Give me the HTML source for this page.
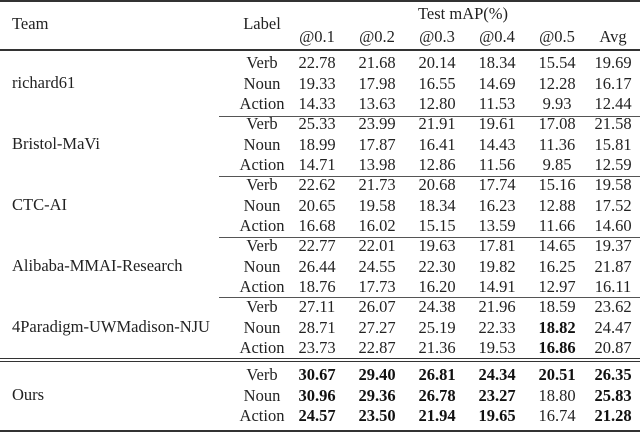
<!DOCTYPE html>
<html><head><meta charset="utf-8"><style>
body{margin:0;background:#fff}
#c{position:relative;width:640px;height:432px;overflow:hidden;font-family:"Liberation Serif",serif;font-size:16.5px;color:#222}
.t{position:absolute;transform:translate(-50%,-50%);white-space:nowrap;line-height:1}
.l{position:absolute;transform:translateY(-50%);white-space:nowrap;line-height:1}
.r{position:absolute;background:#333;left:0;width:640px}
.s{position:absolute;background:#555;left:219px;width:421px;height:1px}
b{font-weight:bold;color:#111}
</style></head><body><div id="c">
<div class="r" style="top:0;height:2px"></div>
<div class="r" style="top:49px;height:1.5px"></div>
<div class="s" style="top:116px"></div>
<div class="s" style="top:176px"></div>
<div class="s" style="top:237px"></div>
<div class="s" style="top:297px"></div>
<div class="r" style="top:358px;height:1px"></div>
<div class="r" style="top:361px;height:1px"></div>
<div class="r" style="top:430px;height:2px"></div>
<span class="l" style="left:12px;top:24px">Team</span>
<span class="t" style="left:262px;top:24px">Label</span>
<span class="t" style="left:463px;top:14px">Test mAP(%)</span>
<span class="t" style="left:317px;top:37px">@0.1</span>
<span class="t" style="left:377px;top:37px">@0.2</span>
<span class="t" style="left:437px;top:37px">@0.3</span>
<span class="t" style="left:497px;top:37px">@0.4</span>
<span class="t" style="left:557px;top:37px">@0.5</span>
<span class="t" style="left:613px;top:37px">Avg</span>

<span class="l" style="left:12px;top:83px">richard61</span>
<span class="t" style="left:262px;top:63px">Verb</span><span class="t" style="left:317px;top:63px">22.78</span><span class="t" style="left:377px;top:63px">21.68</span><span class="t" style="left:437px;top:63px">20.14</span><span class="t" style="left:497px;top:63px">18.34</span><span class="t" style="left:557px;top:63px">15.54</span><span class="t" style="left:613px;top:63px">19.69</span>
<span class="t" style="left:262px;top:84px">Noun</span><span class="t" style="left:317px;top:84px">19.33</span><span class="t" style="left:377px;top:84px">17.98</span><span class="t" style="left:437px;top:84px">16.55</span><span class="t" style="left:497px;top:84px">14.69</span><span class="t" style="left:557px;top:84px">12.28</span><span class="t" style="left:613px;top:84px">16.17</span>
<span class="t" style="left:262px;top:104px">Action</span><span class="t" style="left:317px;top:104px">14.33</span><span class="t" style="left:377px;top:104px">13.63</span><span class="t" style="left:437px;top:104px">12.80</span><span class="t" style="left:497px;top:104px">11.53</span><span class="t" style="left:557px;top:104px">9.93</span><span class="t" style="left:613px;top:104px">12.44</span>

<span class="l" style="left:12px;top:144px">Bristol-MaVi</span>
<span class="t" style="left:262px;top:124px">Verb</span><span class="t" style="left:317px;top:124px">25.33</span><span class="t" style="left:377px;top:124px">23.99</span><span class="t" style="left:437px;top:124px">21.91</span><span class="t" style="left:497px;top:124px">19.61</span><span class="t" style="left:557px;top:124px">17.08</span><span class="t" style="left:613px;top:124px">21.58</span>
<span class="t" style="left:262px;top:145px">Noun</span><span class="t" style="left:317px;top:145px">18.99</span><span class="t" style="left:377px;top:145px">17.87</span><span class="t" style="left:437px;top:145px">16.41</span><span class="t" style="left:497px;top:145px">14.43</span><span class="t" style="left:557px;top:145px">11.36</span><span class="t" style="left:613px;top:145px">15.81</span>
<span class="t" style="left:262px;top:165px">Action</span><span class="t" style="left:317px;top:165px">14.71</span><span class="t" style="left:377px;top:165px">13.98</span><span class="t" style="left:437px;top:165px">12.86</span><span class="t" style="left:497px;top:165px">11.56</span><span class="t" style="left:557px;top:165px">9.85</span><span class="t" style="left:613px;top:165px">12.59</span>

<span class="l" style="left:12px;top:205px">CTC-AI</span>
<span class="t" style="left:262px;top:185px">Verb</span><span class="t" style="left:317px;top:185px">22.62</span><span class="t" style="left:377px;top:185px">21.73</span><span class="t" style="left:437px;top:185px">20.68</span><span class="t" style="left:497px;top:185px">17.74</span><span class="t" style="left:557px;top:185px">15.16</span><span class="t" style="left:613px;top:185px">19.58</span>
<span class="t" style="left:262px;top:206px">Noun</span><span class="t" style="left:317px;top:206px">20.65</span><span class="t" style="left:377px;top:206px">19.58</span><span class="t" style="left:437px;top:206px">18.34</span><span class="t" style="left:497px;top:206px">16.23</span><span class="t" style="left:557px;top:206px">12.88</span><span class="t" style="left:613px;top:206px">17.52</span>
<span class="t" style="left:262px;top:226px">Action</span><span class="t" style="left:317px;top:226px">16.68</span><span class="t" style="left:377px;top:226px">16.02</span><span class="t" style="left:437px;top:226px">15.15</span><span class="t" style="left:497px;top:226px">13.59</span><span class="t" style="left:557px;top:226px">11.66</span><span class="t" style="left:613px;top:226px">14.60</span>

<span class="l" style="left:12px;top:266px">Alibaba-MMAI-Research</span>
<span class="t" style="left:262px;top:246px">Verb</span><span class="t" style="left:317px;top:246px">22.77</span><span class="t" style="left:377px;top:246px">22.01</span><span class="t" style="left:437px;top:246px">19.63</span><span class="t" style="left:497px;top:246px">17.81</span><span class="t" style="left:557px;top:246px">14.65</span><span class="t" style="left:613px;top:246px">19.37</span>
<span class="t" style="left:262px;top:267px">Noun</span><span class="t" style="left:317px;top:267px">26.44</span><span class="t" style="left:377px;top:267px">24.55</span><span class="t" style="left:437px;top:267px">22.30</span><span class="t" style="left:497px;top:267px">19.82</span><span class="t" style="left:557px;top:267px">16.25</span><span class="t" style="left:613px;top:267px">21.87</span>
<span class="t" style="left:262px;top:287px">Action</span><span class="t" style="left:317px;top:287px">18.76</span><span class="t" style="left:377px;top:287px">17.73</span><span class="t" style="left:437px;top:287px">16.20</span><span class="t" style="left:497px;top:287px">14.91</span><span class="t" style="left:557px;top:287px">12.97</span><span class="t" style="left:613px;top:287px">16.11</span>

<span class="l" style="left:12px;top:327px">4Paradigm-UWMadison-NJU</span>
<span class="t" style="left:262px;top:307px">Verb</span><span class="t" style="left:317px;top:307px">27.11</span><span class="t" style="left:377px;top:307px">26.07</span><span class="t" style="left:437px;top:307px">24.38</span><span class="t" style="left:497px;top:307px">21.96</span><span class="t" style="left:557px;top:307px">18.59</span><span class="t" style="left:613px;top:307px">23.62</span>
<span class="t" style="left:262px;top:328px">Noun</span><span class="t" style="left:317px;top:328px">28.71</span><span class="t" style="left:377px;top:328px">27.27</span><span class="t" style="left:437px;top:328px">25.19</span><span class="t" style="left:497px;top:328px">22.33</span><span class="t" style="left:557px;top:328px"><b>18.82</b></span><span class="t" style="left:613px;top:328px">24.47</span>
<span class="t" style="left:262px;top:348px">Action</span><span class="t" style="left:317px;top:348px">23.73</span><span class="t" style="left:377px;top:348px">22.87</span><span class="t" style="left:437px;top:348px">21.36</span><span class="t" style="left:497px;top:348px">19.53</span><span class="t" style="left:557px;top:348px"><b>16.86</b></span><span class="t" style="left:613px;top:348px">20.87</span>

<span class="l" style="left:12px;top:395px">Ours</span>
<span class="t" style="left:262px;top:375px">Verb</span><span class="t" style="left:317px;top:375px"><b>30.67</b></span><span class="t" style="left:377px;top:375px"><b>29.40</b></span><span class="t" style="left:437px;top:375px"><b>26.81</b></span><span class="t" style="left:497px;top:375px"><b>24.34</b></span><span class="t" style="left:557px;top:375px"><b>20.51</b></span><span class="t" style="left:613px;top:375px"><b>26.35</b></span>
<span class="t" style="left:262px;top:396px">Noun</span><span class="t" style="left:317px;top:396px"><b>30.96</b></span><span class="t" style="left:377px;top:396px"><b>29.36</b></span><span class="t" style="left:437px;top:396px"><b>26.78</b></span><span class="t" style="left:497px;top:396px"><b>23.27</b></span><span class="t" style="left:557px;top:396px">18.80</span><span class="t" style="left:613px;top:396px"><b>25.83</b></span>
<span class="t" style="left:262px;top:416px">Action</span><span class="t" style="left:317px;top:416px"><b>24.57</b></span><span class="t" style="left:377px;top:416px"><b>23.50</b></span><span class="t" style="left:437px;top:416px"><b>21.94</b></span><span class="t" style="left:497px;top:416px"><b>19.65</b></span><span class="t" style="left:557px;top:416px">16.74</span><span class="t" style="left:613px;top:416px"><b>21.28</b></span>
</div></body></html>
